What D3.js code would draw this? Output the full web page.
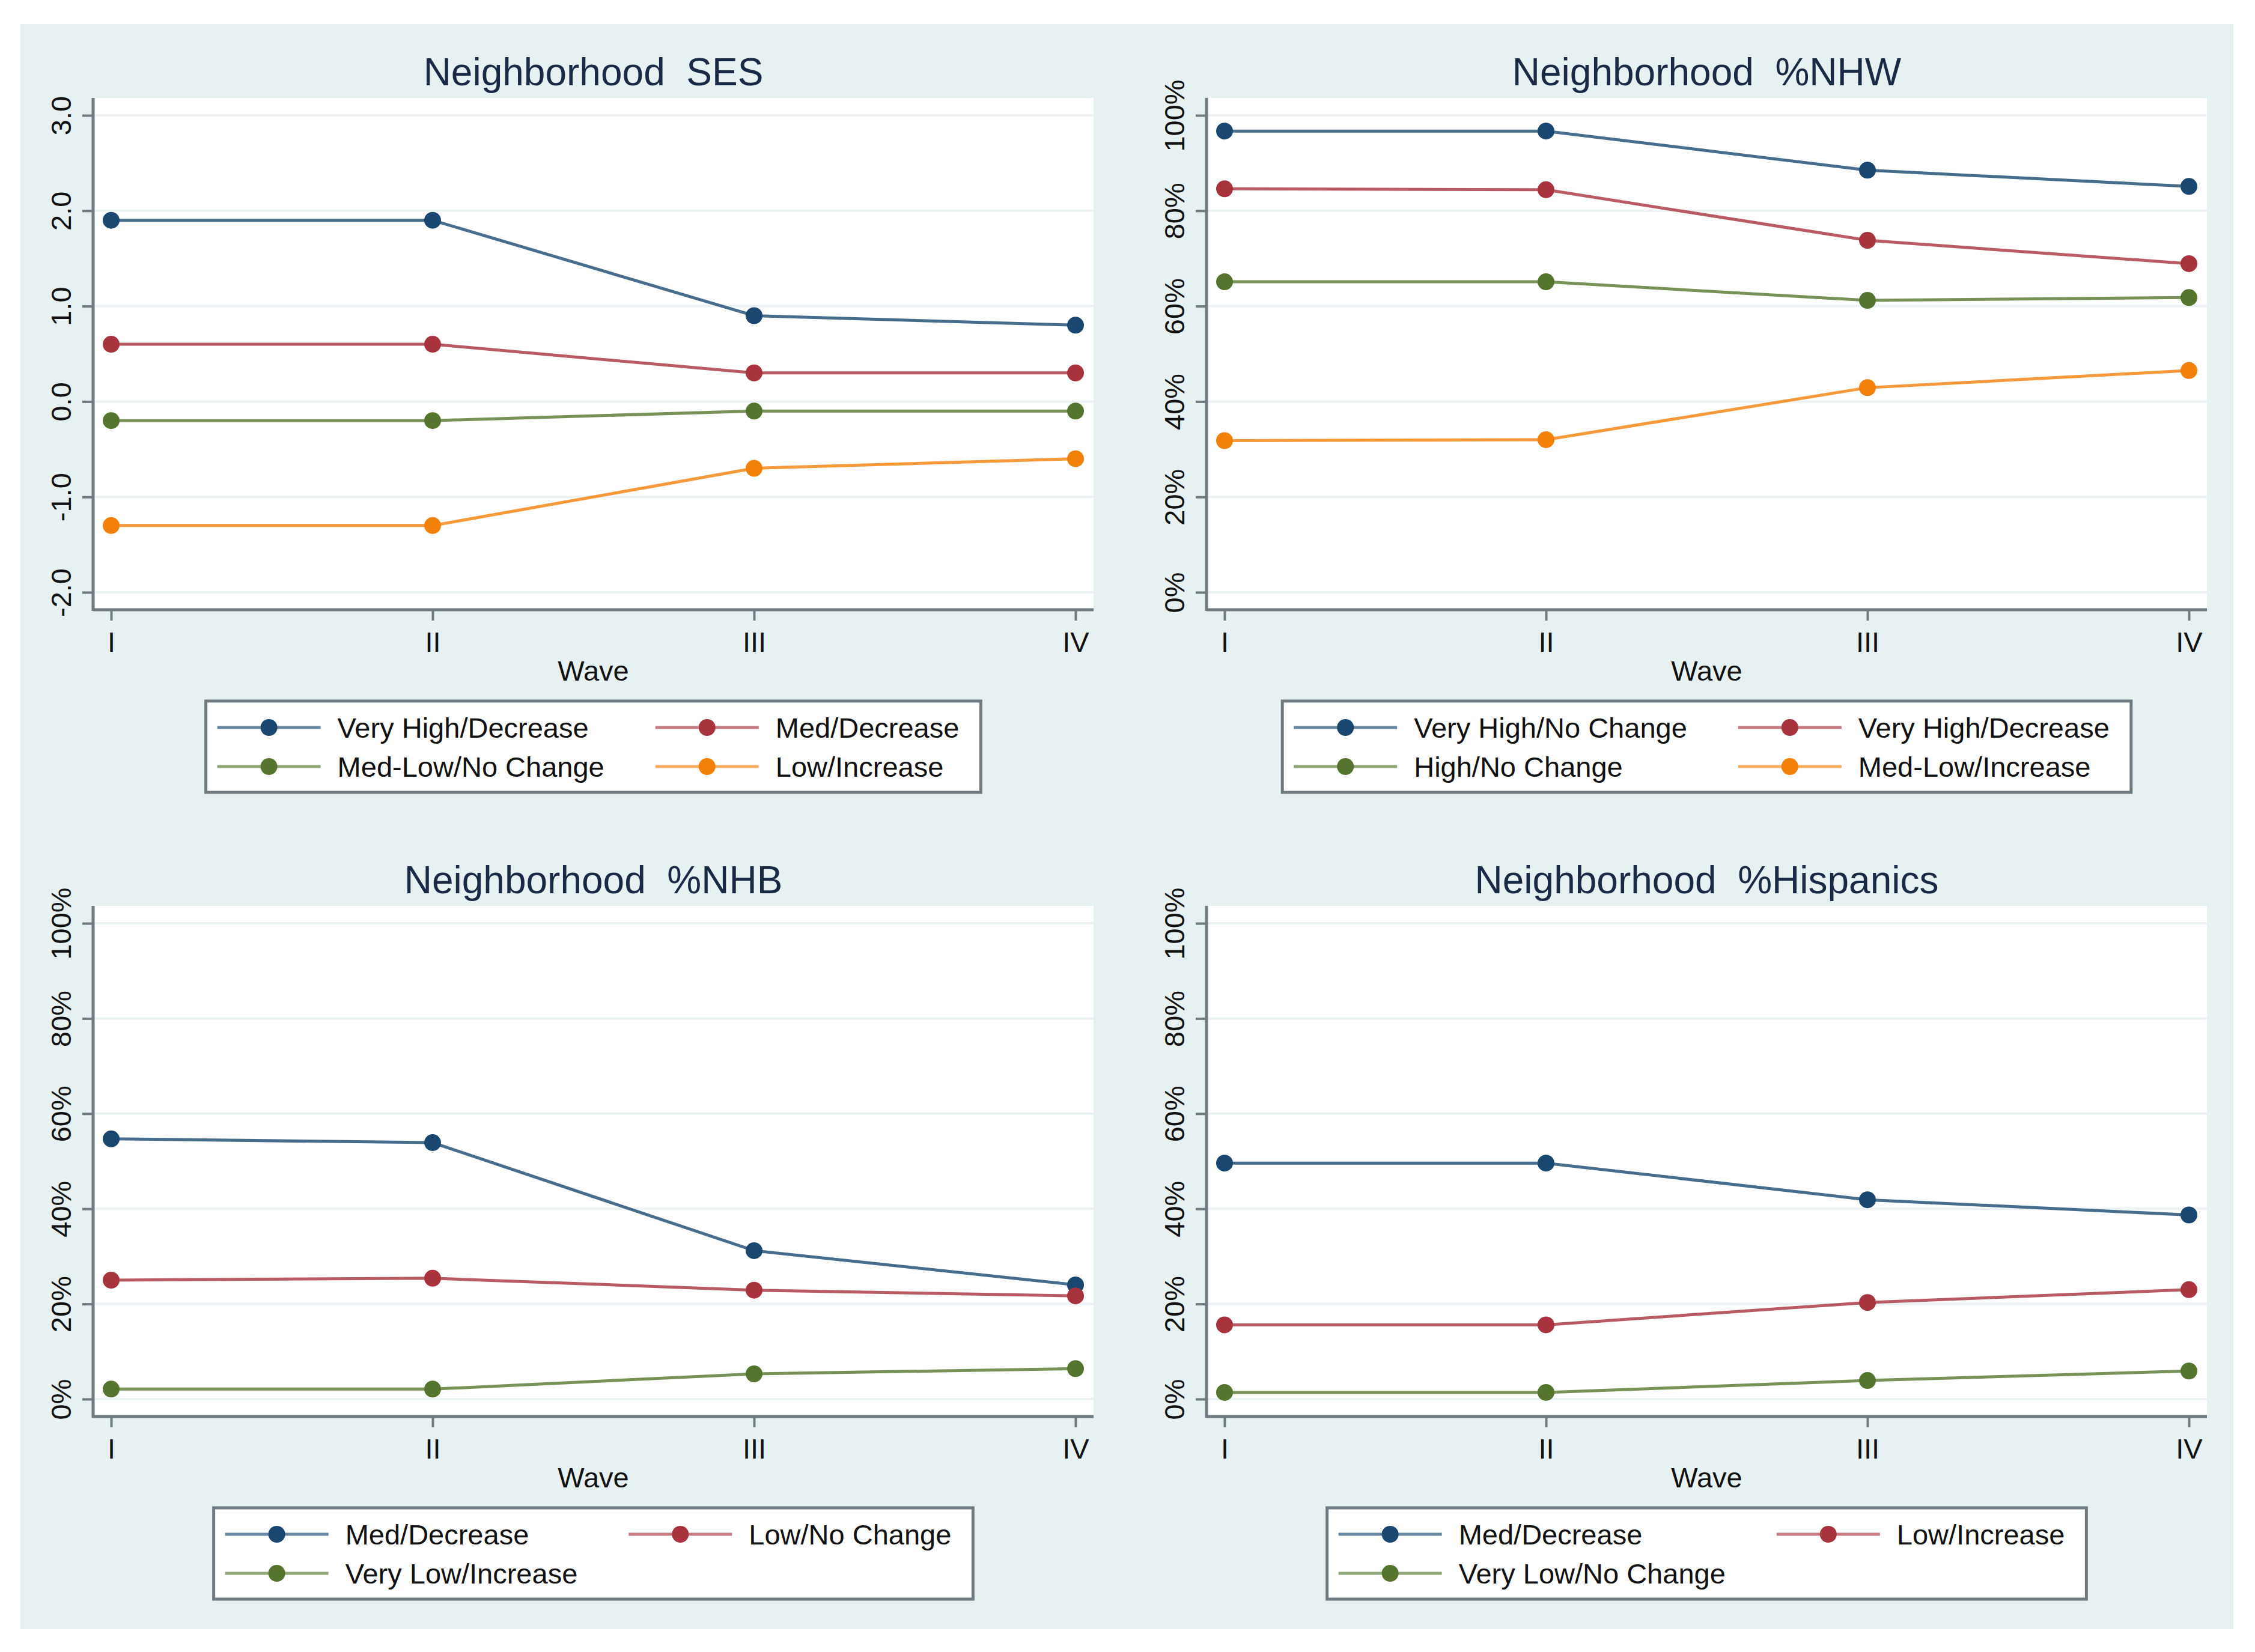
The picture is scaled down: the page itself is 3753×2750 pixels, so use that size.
<!DOCTYPE html>
<html>
<head>
<meta charset="utf-8">
<script src="https://cdn.jsdelivr.net/npm/d3@7"></script>
<style>
  body { margin: 0; background: #ffffff; }
  text { font-family: "Liberation Sans", Arial, sans-serif; }
</style>
</head>
<body>
<div id="chart"></div>
<script>
// waves on the x axis
var waves = ["I", "II", "III", "IV"];

// Neighborhood SES
var sesNames = ["Very High/Decrease", "Med/Decrease", "Med-Low/No Change", "Low/Increase"];
var sesValues = [
  [1.9, 1.9, 0.9, 0.8],
  [0.6, 0.6, 0.3, 0.3],
  [-0.2, -0.2, -0.1, -0.1],
  [-1.3, -1.3, -0.7, -0.6]
];
var sesTicks = [-2, -1, 0, 1, 2, 3];

// Neighborhood %NHW
var nhwNames = ["Very High/No Change", "Very High/Decrease", "High/No Change", "Med-Low/Increase"];
var nhwValues = [
  [96.7, 96.7, 88.5, 85.1],
  [84.6, 84.4, 73.8, 68.9],
  [65.1, 65.1, 61.2, 61.8],
  [31.8, 32.0, 42.9, 46.5]
];

// Neighborhood %NHB
var nhbNames = ["Med/Decrease", "Low/No Change", "Very Low/Increase"];
var nhbValues = [
  [54.7, 53.9, 31.2, 24.0],
  [25.0, 25.4, 22.9, 21.7],
  [2.1, 2.1, 5.3, 6.4]
];

// Neighborhood %Hispanics
var hisNames = ["Med/Decrease", "Low/Increase", "Very Low/No Change"];
var hisValues = [
  [49.6, 49.6, 41.9, 38.7],
  [15.6, 15.6, 20.3, 23.0],
  [1.4, 1.4, 3.9, 5.9]
];

var pctTicks = [0, 20, 40, 60, 80, 100];
var seriesColors = ["#1a476f", "#a8323e", "#55752f", "#f28009"];

var W = 3753, H = 2750;
var svg = d3.select("#chart").append("svg")
    .attr("width", W)
    .attr("height", H);

// outer stata-like background
svg.append("rect")
    .attr("x", 34).attr("y", 40)
    .attr("width", 3683).attr("height", 2672)
    .attr("fill", "#e8f1f2");

var panels = [
  { title: "Neighborhood  SES", names: sesNames, values: sesValues, domain: [-2, 3], ticks: sesTicks,
    fmt: function(d) { return d.toFixed(1); }, x0: 155, x1: 1820, y0: 163, y1: 1015 },
  { title: "Neighborhood  %NHW", names: nhwNames, values: nhwValues, domain: [0, 100], ticks: pctTicks,
    fmt: function(d) { return d + "%"; }, x0: 2008, x1: 3673, y0: 163, y1: 1015 },
  { title: "Neighborhood  %NHB", names: nhbNames, values: nhbValues, domain: [0, 100], ticks: pctTicks,
    fmt: function(d) { return d + "%"; }, x0: 155, x1: 1820, y0: 1508, y1: 2358 },
  { title: "Neighborhood  %Hispanics", names: hisNames, values: hisValues, domain: [0, 100], ticks: pctTicks,
    fmt: function(d) { return d + "%"; }, x0: 2008, x1: 3673, y0: 1508, y1: 2358 }
];

var axisColor = "#6f7b80";

panels.forEach(function(p) {
  var g = svg.append("g");
  var pw = p.x1 - p.x0, ph = p.y1 - p.y0;

  var x = d3.scalePoint().domain(waves).range([p.x0 + 30, p.x1 - 30]);
  var y = d3.scaleLinear().domain(p.domain).range([p.y1 - 29, p.y0 + 29]);

  // white plot region
  g.append("rect")
      .attr("x", p.x0).attr("y", p.y0)
      .attr("width", pw).attr("height", ph)
      .attr("fill", "#ffffff");

  // gridlines
  g.selectAll(".grid").data(p.ticks).enter().append("line")
      .attr("x1", p.x0).attr("x2", p.x1)
      .attr("y1", function(d) { return y(d); })
      .attr("y2", function(d) { return y(d); })
      .attr("stroke", "#edf3f4")
      .attr("stroke-width", 4);

  // title
  g.append("text")
      .attr("x", (p.x0 + p.x1) / 2)
      .attr("y", p.y0 - 21)
      .attr("text-anchor", "middle")
      .style("white-space", "pre")
      .attr("font-size", 64)
      .attr("fill", "#1a2a44")
      .text(p.title);

  // y axis
  var yAxis = g.append("g")
      .attr("transform", "translate(" + p.x0 + ",0)")
      .call(d3.axisLeft(y).tickValues(p.ticks).tickFormat(p.fmt).tickSize(18).tickSizeOuter(0));
  yAxis.select(".domain").remove();
  yAxis.selectAll(".tick line").attr("stroke", axisColor).attr("stroke-width", 4);
  yAxis.selectAll(".tick text")
      .attr("x", null).attr("dy", null)
      .attr("transform", "translate(-54,0) rotate(-90)")
      .attr("text-anchor", "middle")
      .attr("dominant-baseline", "central")
      .attr("font-size", 47)
      .attr("font-family", "Liberation Sans, Arial, sans-serif")
      .attr("fill", "#111");

  // x axis
  var xAxis = g.append("g")
      .attr("transform", "translate(0," + p.y1 + ")")
      .call(d3.axisBottom(x).tickSize(18).tickSizeOuter(0).tickPadding(19));
  xAxis.select(".domain").remove();
  xAxis.selectAll(".tick line").attr("stroke", axisColor).attr("stroke-width", 4);
  xAxis.selectAll(".tick text")
      .attr("font-size", 47)
      .attr("font-family", "Liberation Sans, Arial, sans-serif")
      .attr("fill", "#111");

  // axis lines spanning the plot region
  g.append("line")
      .attr("x1", p.x0).attr("x2", p.x0)
      .attr("y1", p.y0).attr("y2", p.y1 + 2)
      .attr("stroke", axisColor).attr("stroke-width", 5);
  g.append("line")
      .attr("x1", p.x0).attr("x2", p.x1)
      .attr("y1", p.y1).attr("y2", p.y1)
      .attr("stroke", axisColor).attr("stroke-width", 5);

  g.append("text")
      .attr("x", (p.x0 + p.x1) / 2)
      .attr("y", p.y1 + 118)
      .attr("text-anchor", "middle")
      .attr("font-size", 47)
      .attr("fill", "#111")
      .text("Wave");

  // series
  var line = d3.line()
      .x(function(d, i) { return x(waves[i]); })
      .y(function(d) { return y(d); });

  p.values.forEach(function(vals, si) {
    g.append("path")
        .datum(vals)
        .attr("d", line)
        .attr("fill", "none")
        .attr("stroke", seriesColors[si])
        .attr("stroke-opacity", 0.8)
        .attr("stroke-width", 5);
    g.selectAll(".pt" + si).data(vals).enter().append("circle")
        .attr("cx", function(d, i) { return x(waves[i]); })
        .attr("cy", function(d) { return y(d); })
        .attr("r", 14)
        .attr("fill", seriesColors[si]);
  });

  // legend
  var lg = g.append("g");
  var boxTop = p.y1 + 152, boxH = 152;
  var rowY = [boxTop + 44, boxTop + 109];
  var lineLen = 172, gapText = 28, gapCol = 85, padL = 19, padR = 36;

  var items = p.names.map(function(n, i) {
    return { name: n, color: seriesColors[i], col: i % 2, row: Math.floor(i / 2) };
  });

  var texts = lg.selectAll(".lt").data(items).enter().append("text")
      .attr("font-size", 47)
      .attr("fill", "#111")
      .text(function(d) { return d.name; });
  var colW = [0, 0];
  texts.each(function(d) {
    colW[d.col] = Math.max(colW[d.col], this.getComputedTextLength());
  });
  var boxW = padL + lineLen + gapText + colW[0] + gapCol + lineLen + gapText + colW[1] + padR;
  var boxX = (p.x0 + p.x1) / 2 - boxW / 2;
  var colX = [boxX + padL, boxX + padL + lineLen + gapText + colW[0] + gapCol];

  lg.insert("rect", ":first-child")
      .attr("x", boxX).attr("y", boxTop)
      .attr("width", boxW).attr("height", boxH)
      .attr("fill", "#ffffff")
      .attr("stroke", axisColor)
      .attr("stroke-width", 5);

  items.forEach(function(d) {
    var lx = colX[d.col], ly = rowY[d.row];
    lg.append("line")
        .attr("x1", lx).attr("x2", lx + lineLen)
        .attr("y1", ly).attr("y2", ly)
        .attr("stroke", d.color)
        .attr("stroke-opacity", 0.65)
        .attr("stroke-width", 5);
    lg.append("circle")
        .attr("cx", lx + lineLen / 2).attr("cy", ly)
        .attr("r", 14)
        .attr("fill", d.color);
  });
  texts
      .attr("x", function(d) { return colX[d.col] + lineLen + gapText; })
      .attr("y", function(d) { return rowY[d.row] + 17; });
});
</script>
</body>
</html>
